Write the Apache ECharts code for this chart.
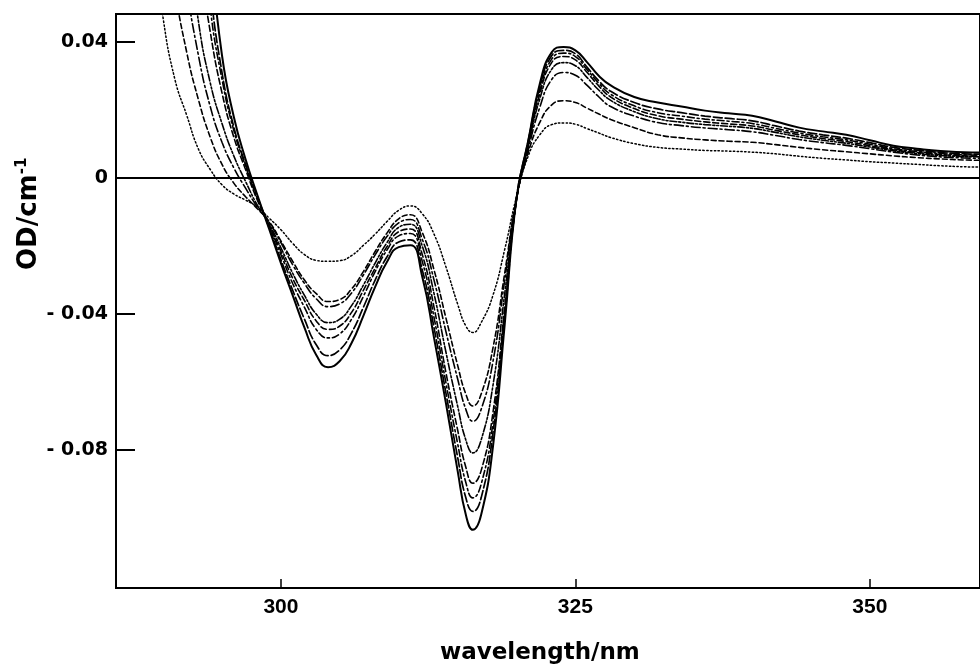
<!DOCTYPE html>
<html><head><meta charset="utf-8">
<script src="https://cdn.jsdelivr.net/npm/echarts@6/dist/echarts.min.js"></script>
<style>html,body{margin:0;padding:0;background:#fff}#c{width:980px;height:667px}</style>
</head><body><div id="c"></div>
<script>
const wavelength = [289,290,291,292,293,294,295,296,297,298,299,300,301,302,303,304,305,306,307,308,309,310,311,312,313,314,315,
  315.7,316.3,
  317,318,319,320,321,322,323,324,325,326,327,328,
  330,332,334,336,338,340,342,344,346,348,350,352,354,356,358,
  359.5];

const curve1 = [null,null,null,null,0.11,0.068,0.036,0.018,0.0055,-0.005,-0.015,-0.025,-0.0345,-0.044,-0.052,-0.0556,-0.0538,-0.0485,-0.0405,-0.032,-0.0247,-0.0203,-0.0198,-0.029,-0.047,-0.066,-0.086,
  -0.099,-0.1034,
  -0.099,-0.079,-0.043,-0.006,0.011,0.028,0.037,0.0385,0.0375,0.034,0.030,0.0272,
  0.0238,0.0222,0.021,0.0198,0.019,0.0183,0.0166,0.0148,0.0137,0.0127,0.0111,0.0095,0.0086,0.0079,0.0076,
  0.0075];
const curve2 = [null,null,null,null,0.095,0.056,0.031,0.015,0.004,-0.0055,-0.0145,-0.024,-0.033,-0.0415,-0.049,-0.0522,-0.0505,-0.0455,-0.038,-0.030,-0.0232,-0.0188,-0.0182,-0.027,-0.044,-0.063,-0.082,
  -0.094,-0.098,
  -0.094,-0.075,-0.041,-0.006,0.011,0.027,0.036,0.0375,0.0365,0.0325,0.0285,0.0255,
  0.0222,0.0203,0.0192,0.0182,0.0175,0.0168,0.0153,0.0138,0.0127,0.0117,0.0104,0.0090,0.0082,0.0075,0.0071,
  0.0070];
const curve3 = [null,null,null,null,0.085,0.050,0.029,0.014,0.0035,-0.006,-0.014,-0.0225,-0.031,-0.038,-0.0445,-0.047,-0.0458,-0.0415,-0.0348,-0.0275,-0.0212,-0.0170,-0.0163,-0.0245,-0.041,-0.060,-0.078,
  -0.0895,-0.094,
  -0.090,-0.072,-0.039,-0.0065,0.0105,0.026,0.035,0.0367,0.0357,0.0318,0.0278,0.0246,
  0.0212,0.0192,0.0182,0.0173,0.0167,0.0160,0.0146,0.0132,0.0121,0.0112,0.0099,0.0086,0.0078,0.0072,0.0068,
  0.0067];
const curve4 = [null,null,null,0.10,0.067,0.043,0.025,0.012,0.0025,-0.0065,-0.0138,-0.0215,-0.0295,-0.036,-0.042,-0.0445,-0.0435,-0.0395,-0.033,-0.0265,-0.0202,-0.0158,-0.0150,-0.0225,-0.038,-0.057,-0.074,
  -0.085,-0.0897,
  -0.086,-0.069,-0.038,-0.0065,0.010,0.025,0.034,0.0357,0.0347,0.031,0.027,0.0238,
  0.0204,0.0183,0.0173,0.0165,0.0159,0.0153,0.0140,0.0127,0.0116,0.0107,0.0095,0.0083,0.0075,0.0069,0.0065,
  0.0064];
const curve5 = [null,null,null,0.075,0.046,0.028,0.016,0.0065,-0.001,-0.008,-0.0135,-0.0205,-0.028,-0.0345,-0.040,-0.0425,-0.0415,-0.0375,-0.0315,-0.025,-0.019,-0.0145,-0.0136,-0.020,-0.034,-0.051,-0.067,
  -0.077,-0.0808,
  -0.077,-0.061,-0.034,-0.0065,0.0095,0.0235,0.032,0.0339,0.033,0.0295,0.0258,0.0228,
  0.0195,0.0174,0.0164,0.0157,0.0152,0.0146,0.0134,0.0121,0.0111,0.0102,0.0091,0.0080,0.0072,0.0066,0.0063,
  0.0062];
const curve6 = [null,null,0.09,0.057,0.036,0.021,0.0105,0.003,-0.003,-0.0085,-0.013,-0.019,-0.0255,-0.031,-0.0355,-0.0378,-0.0370,-0.0338,-0.0285,-0.0226,-0.0172,-0.0132,-0.0122,-0.018,-0.030,-0.045,-0.059,
  -0.068,-0.0715,
  -0.068,-0.054,-0.030,-0.006,0.0085,0.021,0.029,0.031,0.0302,0.0272,0.0238,0.021,
  0.0182,0.0163,0.0154,0.0147,0.0142,0.0136,0.0125,0.0113,0.0104,0.0096,0.0086,0.0076,0.0068,0.0062,0.0059,
  0.0058];
const curve7 = [null,0.085,0.056,0.037,0.023,0.012,0.004,-0.0015,-0.0055,-0.009,-0.0128,-0.0185,-0.0245,-0.030,-0.034,-0.0363,-0.0357,-0.0326,-0.0275,-0.0216,-0.0162,-0.0120,-0.0108,-0.016,-0.027,-0.041,-0.055,
  -0.0635,-0.067,
  -0.0635,-0.050,-0.028,-0.006,0.0075,0.0165,0.0215,0.0227,0.0222,0.0205,0.0188,0.0172,
  0.0148,0.0127,0.0118,0.0112,0.0108,0.0105,0.0098,0.0090,0.0083,0.0077,0.0071,0.0065,0.0060,0.0056,0.0053,
  0.0052];
const curve8 = [0.075,0.047,0.029,0.0185,0.0085,0.0025,-0.002,-0.0047,-0.0065,-0.0085,-0.0118,-0.0152,-0.0192,-0.0225,-0.0242,-0.0245,-0.0243,-0.0228,-0.0198,-0.0165,-0.0128,-0.0095,-0.0082,-0.0105,-0.0165,-0.026,-0.037,
  -0.0435,-0.0454,
  -0.0425,-0.0345,-0.021,-0.0055,0.0065,0.0128,0.0157,0.0162,0.0158,0.0145,0.0132,0.0119,
  0.0101,0.0090,0.0085,0.0081,0.0079,0.0076,0.0071,0.0064,0.0058,0.0053,0.0048,0.0044,0.0040,0.0036,0.0033,
  0.0032];

const xTicks = [300, 325, 350];
const yTicks = [-0.08, -0.04, 0, 0.04];
const xTitle = 'wavelength/nm';
const yTitle = 'OD/cm';
const yTitleSup = '-1';

const curves = [curve1, curve2, curve3, curve4, curve5, curve6, curve7, curve8];
const dashes = ['solid', [9,3], [7,3,2,3], [6,3], [7,2,2,2,2,2], [9,3,2,3], [5,3], [1.4,2.4]];
const widths = [2, 1.7, 1.6, 1.6, 1.6, 1.6, 1.6, 1.5];

const chart = echarts.init(document.getElementById('c'), null, {renderer: 'canvas'});
const series = curves.map((c, k) => ({
  type: 'line',
  data: wavelength.map((w, i) => [w, c[i]]),
  symbol: 'none',
  smooth: 0.5,
  clip: true,
  silent: true,
  lineStyle: {color: '#000', width: widths[k], type: dashes[k], cap: 'round'},
  z: 3
}));
series[0].markLine = {
  silent: true, symbol: ['none','none'], label: {show: false},
  lineStyle: {color: '#000', width: 2, type: 'solid'},
  data: [{yAxis: 0}]
};

chart.setOption({
  animation: false,
  backgroundColor: '#fff',
  grid: {left: 116, right: -3, top: 14, bottom: 79, show: true, borderColor: '#000', borderWidth: 2},
  xAxis: {
    type: 'value', min: 286, max: 359.35,
    axisLine: {show: true, onZero: false, lineStyle: {color: '#000', width: 2}},
    axisTick: {show: true, inside: true, length: 9, customValues: xTicks, lineStyle: {color: '#000', width: 1.5}},
    axisLabel: {customValues: xTicks, margin: 9, color: '#000', fontFamily: 'Liberation Sans', fontWeight: 'bold', fontSize: 21},
    splitLine: {show: false}
  },
  yAxis: {
    type: 'value', min: -0.1205, max: 0.0482,
    axisLine: {show: true, onZero: false, lineStyle: {color: '#000', width: 2}},
    axisTick: {show: true, inside: true, length: 19, customValues: yTicks, lineStyle: {color: '#000', width: 2}},
    axisLabel: {customValues: yTicks, margin: 8, color: '#000', fontFamily: 'DejaVu Sans', fontWeight: 'bold', fontSize: 19,
      formatter: v => Math.abs(v) < 1e-9 ? '0' : (v < 0 ? '- ' + Math.abs(v).toFixed(2) : v.toFixed(2))},
    splitLine: {show: false}
  },
  graphic: [
    {type: 'text', left: 440, top: 642,
     style: {text: xTitle, fill: '#000', font: 'bold 23px "DejaVu Sans"'}},
    {type: 'text', x: 15, y: 270, rotation: Math.PI / 2,
     style: {text: '{a|' + yTitle + '}{s|' + yTitleSup + '}', fill: '#000',
       rich: {a: {font: 'bold 26px "DejaVu Sans"', fill: '#000'}, s: {font: 'bold 15px "DejaVu Sans"', fill: '#000', verticalAlign: 'top', padding: [0,0,13,0]}}}}
  ],
  series: series
});
</script>
</body></html>
